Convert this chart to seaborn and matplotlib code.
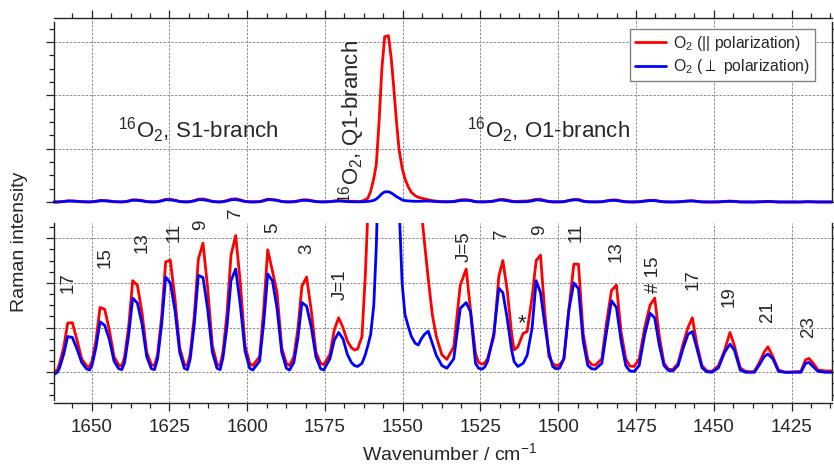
import matplotlib
matplotlib.use("Agg")
import matplotlib.pyplot as plt
from matplotlib.ticker import MultipleLocator, NullFormatter
import pandas as pd
import seaborn as sns

# ---------------- spectrum (arb. units) ----------------
wavenumber = [
    1662.1, 1661.0,
    1660.3, 1659.0, 1657.7, 1656.2, 1654.7, 1653.2, 1651.7, 1650.7,
    1649.9, 1648.6, 1647.3, 1645.8, 1644.3, 1642.8, 1641.3, 1640.3,
    1639.4, 1638.1, 1636.8, 1635.3, 1633.8, 1632.3, 1630.8, 1629.8,
    1628.8, 1627.5, 1626.2, 1624.7, 1623.2, 1621.7, 1620.2, 1619.2,
    1618.3, 1617.0, 1615.7, 1614.2, 1612.7, 1611.2, 1609.7, 1608.7,
    1607.8, 1606.5, 1605.2, 1603.7, 1602.2, 1600.7, 1599.2, 1598.2,
    1596.0, 1594.7, 1593.4, 1591.9, 1590.4, 1588.9, 1587.4, 1586.4,
    1585.0, 1583.7, 1582.4, 1580.9, 1579.4, 1577.9, 1576.4, 1575.4,
    1573.4, 1572.0, 1570.6, 1569.2, 1567.8, 1566.5, 1565.5, 1564.5,
    1563.1, 1562.0, 1561.2, 1560.3, 1559.3, 1558.5, 1557.6, 1556.7, 1555.8,
    1554.6, 1553.7, 1552.9, 1552.0, 1551.2, 1550.2, 1549.3, 1548.2, 1547.2,
    1546.0, 1545.0, 1544.0, 1543.0, 1541.8, 1540.5, 1539.2, 1537.4, 1535.8,
    1533.6, 1531.5, 1529.6, 1528.2, 1526.6, 1525.6, 1524.5, 1523.6,
    1522.7, 1520.7, 1519.1, 1517.8, 1516.4, 1515.0, 1514.2,
    1513.0, 1511.3, 1510.0,
    1508.4, 1507.1, 1505.7, 1504.4, 1503.0, 1501.8, 1500.8, 1499.6,
    1498.2, 1496.6, 1495.0, 1493.5, 1492.0, 1490.5, 1489.3, 1488.1,
    1486.0, 1484.5, 1482.9, 1481.3, 1479.8, 1478.3, 1477.0, 1475.6,
    1474.0, 1472.2, 1470.5, 1469.0, 1467.5, 1466.0, 1464.6, 1463.2,
    1461.5, 1459.8, 1458.3, 1456.9, 1455.5, 1453.8, 1452.2, 1450.6,
    1448.5, 1446.5, 1444.8, 1443.4, 1441.5, 1439.8, 1438.2,
    1437.0, 1435.5, 1433.8, 1432.6, 1431.0, 1429.2, 1427.0,
    1422.0, 1420.5, 1419.4, 1418.0, 1416.5, 1414.0, 1412.1,
]
o2_parallel = [
    0.02, 0.05,
    0.20, 0.55, 1.10, 1.11, 0.72, 0.30, 0.15, 0.12,
    0.25, 0.72, 1.45, 1.41, 0.94, 0.35, 0.16, 0.14,
    0.35, 1.02, 2.05, 1.95, 1.33, 0.45, 0.17, 0.15,
    0.40, 1.24, 2.47, 2.51, 1.63, 0.55, 0.18, 0.15,
    0.42, 1.26, 2.53, 2.89, 1.88, 0.60, 0.18, 0.15,
    0.45, 1.31, 2.62, 3.06, 2.00, 0.60, 0.20, 0.15,
    0.35, 1.40, 2.74, 2.27, 1.78, 0.55, 0.20, 0.15,
    0.35, 0.97, 1.93, 2.13, 1.38, 0.45, 0.20, 0.17,
    0.40, 0.95, 1.22, 1.00, 0.70, 0.55, 0.50, 0.52,
    0.80, 2.2, 3.6, 10, 22, 35, 75, 125, 155,
    156, 135, 108, 75, 50, 32, 22, 14, 9,
    6, 4.4, 3.6, 2.9, 2.1, 1.3, 0.8, 0.39, 0.29,
    0.57, 1.95, 2.31, 1.39, 0.42, 0.22, 0.18, 0.21,
    0.31, 0.80, 2.15, 2.50, 1.83, 0.87, 0.50,
    0.57, 0.87, 0.91,
    1.69, 2.50, 2.62, 1.39, 0.35, 0.20, 0.15, 0.16,
    0.30, 1.39, 2.42, 2.42, 0.87, 0.28, 0.17, 0.16,
    0.30, 1.10, 1.83, 1.95, 0.90, 0.30, 0.14, 0.13,
    0.30, 1.00, 1.50, 1.66, 0.80, 0.20, 0.07, 0.06,
    0.20, 0.65, 1.00, 1.22, 0.65, 0.15, 0.03, 0.02,
    0.15, 0.50, 0.89, 0.60, 0.10, 0.02, 0.01,
    0.02, 0.20, 0.45, 0.57, 0.35, 0.05, 0.00,
    0.02, 0.28, 0.31, 0.20, 0.05, 0.03, 0.03,
]
o2_perp = [
    -0.05, 0.00,
    0.10, 0.40, 0.80, 0.78, 0.52, 0.22, 0.08, 0.05,
    0.15, 0.56, 1.13, 1.05, 0.73, 0.25, 0.08, 0.06,
    0.22, 0.83, 1.66, 1.55, 1.08, 0.35, 0.08, 0.06,
    0.30, 1.06, 2.13, 2.00, 1.38, 0.45, 0.09, 0.06,
    0.30, 1.08, 2.17, 2.12, 1.41, 0.45, 0.09, 0.06,
    0.32, 1.02, 2.05, 2.31, 1.50, 0.48, 0.09, 0.05,
    0.25, 1.10, 2.20, 2.05, 1.43, 0.45, 0.09, 0.05,
    0.22, 0.76, 1.56, 1.48, 1.01, 0.35, 0.08, 0.05,
    0.30, 0.72, 0.89, 0.75, 0.40, 0.22, 0.15, 0.13,
    0.20, 0.40, 0.60, 0.85, 1.5, 2.8, 5.0, 7.8, 9.5,
    9.6, 8.5, 7.0, 5.0, 3.8, 2.0, 1.3, 1.02, 0.8,
    0.65, 0.61, 0.75, 0.85, 0.92, 0.65, 0.38, 0.15, 0.09,
    0.30, 1.43, 1.56, 1.35, 0.20, 0.09, 0.07, 0.12,
    0.25, 0.87, 1.88, 1.78, 1.20, 0.50, 0.24,
    0.13, 0.20, 0.38,
    1.00, 2.05, 1.78, 1.10, 0.45, 0.13, 0.08, 0.09,
    0.30, 1.39, 2.00, 1.87, 0.70, 0.15, 0.08, 0.07,
    0.20, 0.90, 1.60, 1.45, 0.70, 0.15, 0.03, 0.02,
    0.15, 0.85, 1.32, 1.22, 0.60, 0.15, 0.04, 0.03,
    0.15, 0.55, 0.85, 0.91, 0.55, 0.10, 0.01, 0.00,
    0.10, 0.45, 0.63, 0.50, 0.05, 0.00, 0.00,
    0.00, 0.15, 0.35, 0.41, 0.30, 0.02, 0.00,
    0.00, 0.20, 0.22, 0.12, 0.02, 0.00, 0.00,
]

# rotational line labels (bottom panel), wavenumber / intensity of label foot
line_labels = ["17", "15", "13", "11", "9", "7", "5", "3", "J=1",
               "J=5", "7", "9", "11", "13", "# 15", "17", "19", "21", "23"]
line_label_x = [1657.5, 1645.7, 1633.9, 1623.5, 1615.1, 1603.9, 1591.7, 1580.8, 1570.1,
                1530.1, 1518.4, 1506.0, 1494.2, 1481.3, 1469.3, 1456.6, 1445.1, 1432.8, 1419.7]
line_label_y = [1.77, 2.33, 2.67, 2.92, 3.18, 3.45, 3.12, 2.65, 1.62,
                2.47, 2.98, 3.07, 2.92, 2.47, 1.77, 1.83, 1.47, 1.13, 0.80]

series_names = ["O$_\\mathregular{2}$ (|| polarization)",
                "O$_\\mathregular{2}$ ($\\perp$ polarization)"]
series_colors = ["#ff0000", "#0000ff"]

# ---------------- style ----------------
sns.set_style("ticks")
plt.rcParams['font.family'] = ['Liberation Sans', 'DejaVu Sans']
plt.rcParams['mathtext.fontset'] = 'dejavusans'
plt.rcParams['axes.linewidth'] = 1.0
plt.rcParams['xtick.direction'] = 'out'
plt.rcParams['ytick.direction'] = 'out'

df = pd.concat([
    pd.DataFrame({'wavenumber': wavenumber, 'intensity': o2_parallel, 'pol': series_names[0]}),
    pd.DataFrame({'wavenumber': wavenumber, 'intensity': o2_perp, 'pol': series_names[1]}),
])
palette = dict(zip(series_names, series_colors))

W, H = 834, 466
fig = plt.figure(figsize=(W / 100, H / 100), dpi=100)
x0, x1 = 54, 831.7
ax_top = fig.add_axes([x0 / W, (H - 202) / H, (x1 - x0) / W, (202 - 18) / H])
ax_bot = fig.add_axes([x0 / W, (H - 402.5) / H, (x1 - x0) / W, (402.5 - 223) / H])

grid_kw = dict(color='#8c8c8c', linewidth=0.7, linestyle=(0, (2.5, 1.5)))
XMIN, XMAX = 1662.1, 1412.1

for ax in (ax_top, ax_bot):
    sns.lineplot(data=df, x='wavenumber', y='intensity', hue='pol', palette=palette,
                 hue_order=series_names, sort=False, estimator=None, linewidth=2.0,
                 legend=False, ax=ax)
    ax.set_xlim(XMIN, XMAX)
    ax.xaxis.set_major_locator(MultipleLocator(25))
    ax.xaxis.set_minor_locator(MultipleLocator(6.25))
    ax.yaxis.set_minor_formatter(NullFormatter())
    ax.yaxis.set_major_formatter(NullFormatter())
    ax.grid(True, which='major', **grid_kw)
    ax.set_xlabel('')
    ax.set_ylabel('')
    ax.tick_params(which='major', length=6, width=0.9, color='#222222')
    ax.tick_params(which='minor', length=3.3, width=0.9, color='#222222')
    for s in ax.spines.values():
        s.set_color('#222222')

# top panel: full Q-branch
ax_top.set_ylim(0, 172.6)
ax_top.yaxis.set_major_locator(MultipleLocator(50))
ax_top.yaxis.set_minor_locator(MultipleLocator(12.5))
ax_top.xaxis.tick_top()
ax_top.tick_params(axis='x', which='both', labeltop=False, labelbottom=False)
ax_top.tick_params(axis='y', which='both', left=True, right=True)
ax_top.spines['bottom'].set_visible(False)
ax_top.spines['left'].set_bounds(0, 169.1)
ax_top.spines['right'].set_bounds(0, 169.1)
for ln in ax_top.get_lines():
    ln.set_clip_on(False)

ax_top.text(1641.5, 60, "$^\\mathregular{16}$O$_\\mathregular{2}$, S1-branch",
            fontsize=16, ha='left', va='baseline')
ax_top.text(1529.3, 60, "$^\\mathregular{16}$O$_\\mathregular{2}$, O1-branch",
            fontsize=16, ha='left', va='baseline')
ax_top.text(1566.3, 152, "$^\\mathregular{16}$O$_\\mathregular{2}$, Q1-branch",
            fontsize=16, ha='center', va='top', rotation=90)

leg = ax_top.legend(handles=ax_top.get_lines()[:2], labels=series_names,
                    loc='upper right', bbox_to_anchor=(815 / W, 1 - 29 / H),
                    bbox_transform=fig.transFigure, borderaxespad=0,
                    fontsize=11.3, frameon=True, fancybox=False, framealpha=1,
                    edgecolor='#808080', handlelength=2.0, handletextpad=0.45,
                    labelspacing=0.3, borderpad=0.3)
leg.get_frame().set_linewidth(1.0)

# bottom panel: zoom on rotational lines
ax_bot.set_ylim(-0.676, 3.34)
ax_bot.yaxis.set_major_locator(MultipleLocator(1))
ax_bot.yaxis.set_minor_locator(MultipleLocator(0.25))
ax_bot.tick_params(axis='y', which='both', left=True, right=True)
ax_bot.tick_params(axis='x', which='both', bottom=True, top=False, labelsize=13.5, pad=6)
ax_bot.spines['top'].set_visible(False)
ax_bot.spines['left'].set_bounds(-0.62, 3.34)
ax_bot.spines['right'].set_bounds(-0.62, 3.34)

for txt, lx, ly in zip(line_labels, line_label_x, line_label_y):
    ax_bot.text(lx, ly, txt, rotation=90, ha='center', va='bottom', fontsize=13.5,
                clip_on=False)
ax_bot.text(1511.6, 1.08, "*", ha='center', va='center', fontsize=16)

fig.text(20 / W, 1 - 242 / H, "Raman intensity", rotation=90, ha='center', va='center',
         fontsize=14)
fig.text(450 / W, 1 - 454 / H, "Wavenumber / cm$^\\mathregular{-1}$", ha='center',
         va='center', fontsize=14)

fig.savefig("out.png", dpi=100)
